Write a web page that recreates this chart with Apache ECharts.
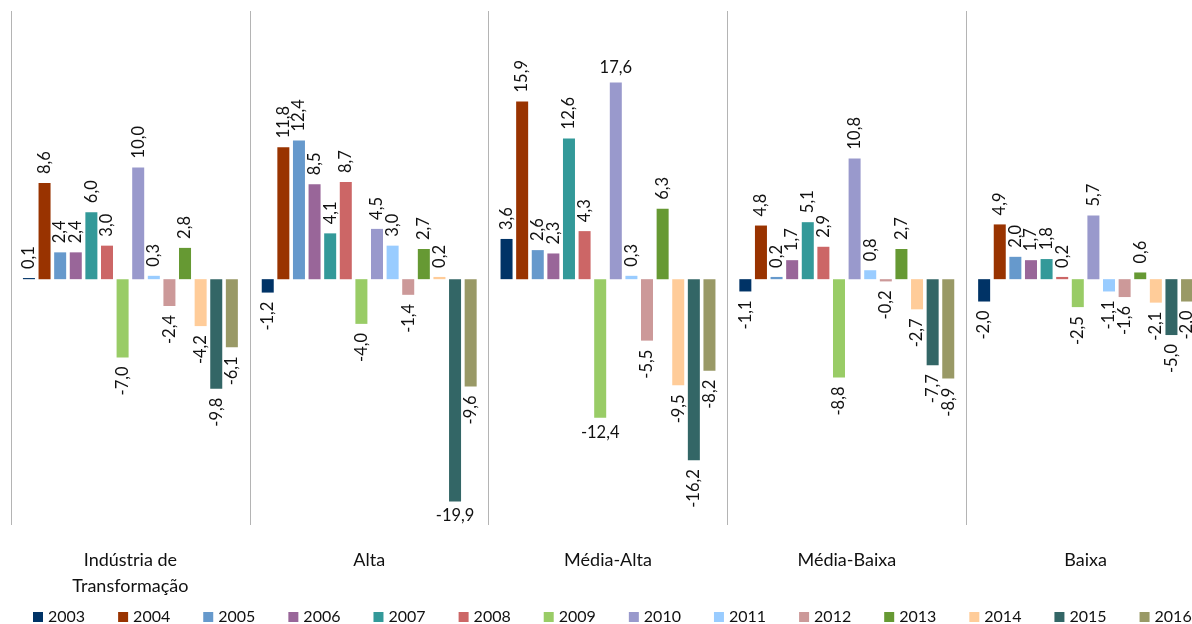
<!DOCTYPE html>
<html>
<head>
<meta charset="utf-8">
<script src="https://cdn.jsdelivr.net/npm/echarts@6/dist/echarts.min.js"></script>
<style>
  html, body { margin: 0; padding: 0; background: #fff; }
  #chart { width: 1192px; height: 624px; }
</style>
</head>
<body>
<div id="chart"></div>
<script>
// Variação anual (%) por intensidade tecnológica, 2003–2016
const categories = ['Indústria de\nTransformação', 'Alta', 'Média-Alta', 'Média-Baixa', 'Baixa'];
const years = ['2003', '2004', '2005', '2006', '2007', '2008', '2009', '2010', '2011', '2012', '2013', '2014', '2015', '2016'];

// one array per category, values in year order
const industriaTransformacao = [0.1, 8.6, 2.4, 2.4, 6.0, 3.0, -7.0, 10.0, 0.3, -2.4, 2.8, -4.2, -9.8, -6.1];
const alta = [-1.2, 11.8, 12.4, 8.5, 4.1, 8.7, -4.0, 4.5, 3.0, -1.4, 2.7, 0.2, -19.9, -9.6];
const mediaAlta = [3.6, 15.9, 2.6, 2.3, 12.6, 4.3, -12.4, 17.6, 0.3, -5.5, 6.3, -9.5, -16.2, -8.2];
const mediaBaixa = [-1.1, 4.8, 0.2, 1.7, 5.1, 2.9, -8.8, 10.8, 0.8, -0.2, 2.7, -2.7, -7.7, -8.9];
const baixa = [-2.0, 4.9, 2.0, 1.7, 1.8, 0.2, -2.5, 5.7, -1.1, -1.6, 0.6, -2.1, -5.0, -2.0];

const byCategory = [industriaTransformacao, alta, mediaAlta, mediaBaixa, baixa];

const colors = ['#003366', '#993300', '#6699CC', '#996699', '#339999', '#CC6666', '#99CC66',
                '#9999CC', '#99CCFF', '#CC9999', '#669933', '#FFCC99', '#336666', '#999966'];

// labels written horizontally instead of rotated: [category index, year index]
const flatLabels = [[1, 12], [2, 6], [2, 7]];

const FONT = 'Lato, "Open Sans", sans-serif';
const fmt = v => v.toFixed(1).replace('.', ',');

function labelFor(value, ci, yi) {
  const flat = flatLabels.some(p => p[0] === ci && p[1] === yi);
  const neg = value < 0;
  if (flat) {
    return {
      show: true, position: neg ? 'bottom' : 'top', rotate: 0,
      align: 'center', verticalAlign: neg ? 'top' : 'bottom', distance: 6
    };
  }
  return {
    show: true, position: neg ? 'bottom' : 'top', rotate: 90,
    align: neg ? 'right' : 'left', verticalAlign: 'middle', distance: 9
  };
}

const series = years.map((y, yi) => ({
  name: y,
  type: 'bar',
  barCategoryGap: '10%',
  barGap: '30%',
  itemStyle: { color: colors[yi] },
  label: {
    color: '#111', fontFamily: FONT, fontSize: 16.5,
    formatter: p => fmt(p.value)
  },
  data: byCategory.map((vals, ci) => ({
    value: vals[yi],
    label: labelFor(vals[yi], ci, yi)
  }))
}));

const chart = echarts.init(document.getElementById('chart'), null, { renderer: 'canvas' });
chart.setOption({
  backgroundColor: '#ffffff',
  animation: false,
  color: colors,
  // the fifth category runs a little past the right edge of the page
  grid: { left: 11, width: 1194, top: 11, height: 514, containLabel: false, outerBoundsMode: 'none' },
  legend: {
    data: years,
    left: 28, top: 604, width: 1180,
    itemWidth: 10, itemHeight: 10, itemGap: 33,
    icon: 'rect',
    textStyle: { fontFamily: FONT, fontSize: 16, color: '#111' }
  },
  xAxis: {
    type: 'category',
    data: categories,
    position: 'bottom',
    axisLine: { show: false },
    axisTick: { show: false },
    splitLine: { show: true, lineStyle: { color: '#b4b4b4', width: 1 } },
    axisLabel: {
      fontFamily: FONT, fontSize: 18, color: '#111',
      margin: 22, lineHeight: 26, interval: 0
    }
  },
  yAxis: {
    type: 'value',
    min: -22, max: 24,
    show: false,
    splitLine: { show: false }
  },
  series: series
});
</script>
</body>
</html>
